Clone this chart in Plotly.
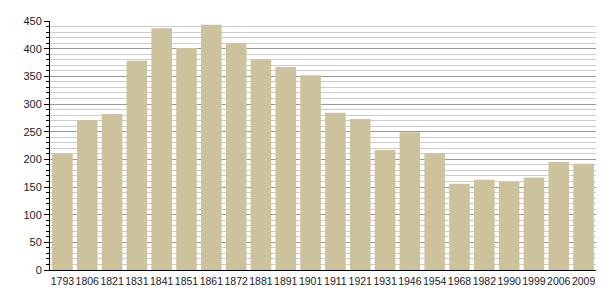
import plotly.graph_objects as go

years = ["1793", "1806", "1821", "1831", "1841", "1851", "1861", "1872", "1881", "1891", "1901",
         "1911", "1921", "1931", "1946", "1954", "1968", "1982", "1990", "1999", "2006", "2009"]
population = [210, 271, 282, 378, 437, 401, 443, 410, 380, 367, 352,
              284, 273, 217, 249, 210, 156, 163, 159, 167, 195, 192]
y_ticks = [0, 50, 100, 150, 200, 250, 300, 350, 400, 450]

fig = go.Figure(go.Bar(x=years, y=population, marker=dict(color="#CCC39C", line=dict(width=0)),
                       hoverinfo="x+y"))

fig.update_layout(
    width=605, height=300,
    margin=dict(l=50, r=9, t=21, b=30, autoexpand=False),
    paper_bgcolor="white", plot_bgcolor="white",
    bargap=0.17,
    showlegend=False,
    font=dict(family="Liberation Sans, Arial, sans-serif", size=11, color="#222"),
)
fig.update_xaxes(
    type="category", showline=True, linecolor="black", linewidth=1,
    ticks="", showgrid=False, tickfont=dict(size=10.5), tickangle=0, ticklabelstandoff=1,
)
fig.update_yaxes(
    range=[0, 450], tickvals=y_ticks, showline=True, linecolor="black", linewidth=1,
    ticks="outside", ticklen=5, tickcolor="black", tickwidth=1,
    showgrid=True, gridcolor="#999999", gridwidth=1, zeroline=False,
    minor=dict(dtick=10, ticks="outside", ticklen=3, tickcolor="black", showgrid=True,
               gridcolor="#cccccc", gridwidth=1),
    tickfont=dict(size=11),
)

fig.write_html("out.html")
